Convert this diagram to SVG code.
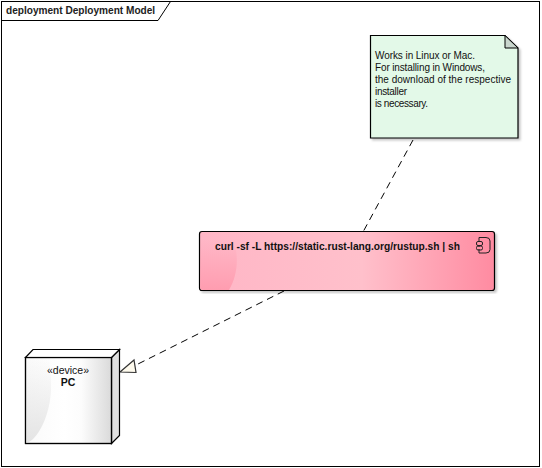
<svg xmlns="http://www.w3.org/2000/svg" width="542" height="468" viewBox="0 0 542 468">
<style>
text{font-family:"Liberation Sans",Arial,sans-serif;fill:#111}
.ol{stroke:#000;stroke-width:1.2}
.conn{fill:none;stroke:#000;stroke-width:1;stroke-dasharray:7 5}
.note{font-size:10px}
</style>
<defs>
<linearGradient id="pink" x1="0" x2="1" y1="0" y2="0">
<stop offset="0" stop-color="#ffb6c6"/><stop offset="0.55" stop-color="#ffc0cb"/><stop offset="1" stop-color="#ff8ba1"/>
</linearGradient>
<linearGradient id="pinkGloss" x1="0" x2="0" y1="0" y2="1">
<stop offset="0" stop-color="#ff9db0" stop-opacity="0"/><stop offset="1" stop-color="#ff9db0"/>
</linearGradient>
<linearGradient id="grey" x1="0" x2="1" y1="0" y2="0">
<stop offset="0" stop-color="#fafafa"/><stop offset="0.45" stop-color="#ffffff"/><stop offset="0.65" stop-color="#fcfcfc"/><stop offset="1" stop-color="#dadada"/>
</linearGradient>
<linearGradient id="greyGloss" x1="0" x2="0" y1="0" y2="1">
<stop offset="0" stop-color="#e4e4e4" stop-opacity="0"/><stop offset="1" stop-color="#e4e4e4"/>
</linearGradient>
<filter id="sh" x="-5%" y="-5%" width="110%" height="110%">
<feDropShadow dx="2" dy="2" stdDeviation="1" flood-color="#000" flood-opacity="0.22"/>
</filter>
</defs>
<rect width="542" height="468" fill="#fff"/>
<g id="frame">
<rect x="1.5" y="1.500" width="538" height="465" fill="none" stroke="#000"/>
<path d="M1.500 20.500H158L170.500 1.500" fill="none" stroke="#000"/>
<text x="6" y="14" font-size="10.100" font-weight="bold" style="fill:#222">deployment Deployment Model</text>
</g>
<g id="connectors">
<path class="conn" d="M413 140L363 232"/>
<path class="conn" d="M284 291L136 365"/>
<path d="M134 360L120 372L136 372.500Z" fill="#fffbee" stroke="#333" stroke-width="1.200"/>
</g>
<g id="note">
<path d="M370.500 35.500H505L518 48V138H370.500Z" fill="#e3f9e8" class="ol" filter="url(#sh)"/>
<path d="M505 35.500V48H518Z" fill="#c9d6cd" stroke="#000"/>
<text class="note" x="375" y="59" textLength="100">Works in Linux or Mac.</text>
<text class="note" x="375" y="71" textLength="110">For installing in Windows,</text>
<text class="note" x="375" y="83" textLength="136">the download of the respective</text>
<text class="note" x="375" y="95" textLength="32">installer</text>
<text class="note" x="375" y="107" textLength="53">is necessary.</text>
</g>
<g id="component">
<rect x="199.500" y="231.500" width="295" height="59" rx="2.500" fill="url(#pink)" class="ol" filter="url(#sh)"/>
<path d="M200.100 240H233C239 255 238 275 229 290H203Q200.100 290 200.100 287Z" fill="url(#pinkGloss)"/>
<text x="215" y="250" font-size="10.200" font-weight="bold">curl -sf -L https://static.rust-lang.org/rustup.sh | sh</text>
<path d="M479 242V237.500H486Q490 237.500 490 241V249.500Q490 253 486 253H479V249M479 247V246" fill="none" stroke="#222"/>
<rect x="476.500" y="241.500" width="6" height="4" rx="1.500" fill="none" stroke="#222"/>
<rect x="476.500" y="246" width="6" height="4" rx="1.500" fill="none" stroke="#222"/>
</g>
<g id="device">
<path d="M111.500 357.500L119.500 349.500V435.500L111.500 443.500Z" fill="#e0e0e0" class="ol"/>
<rect x="25.500" y="357.500" width="86" height="86" fill="url(#grey)" class="ol"/>
<path d="M26.100 443C38 440 50 415 51 390C51 378 50 366 49 358H26.100Z" fill="url(#greyGloss)"/>
<path d="M25.500 357.500L33 349.500H119.500L111.500 357.500Z" fill="#fff" class="ol"/>
<rect x="25.500" y="357.500" width="86" height="86" fill="none" class="ol"/>
<text x="68" y="374" font-size="10.500" text-anchor="middle">«device»</text>
<text x="68" y="386" font-size="10.500" font-weight="bold" text-anchor="middle">PC</text>
</g>
</svg>
